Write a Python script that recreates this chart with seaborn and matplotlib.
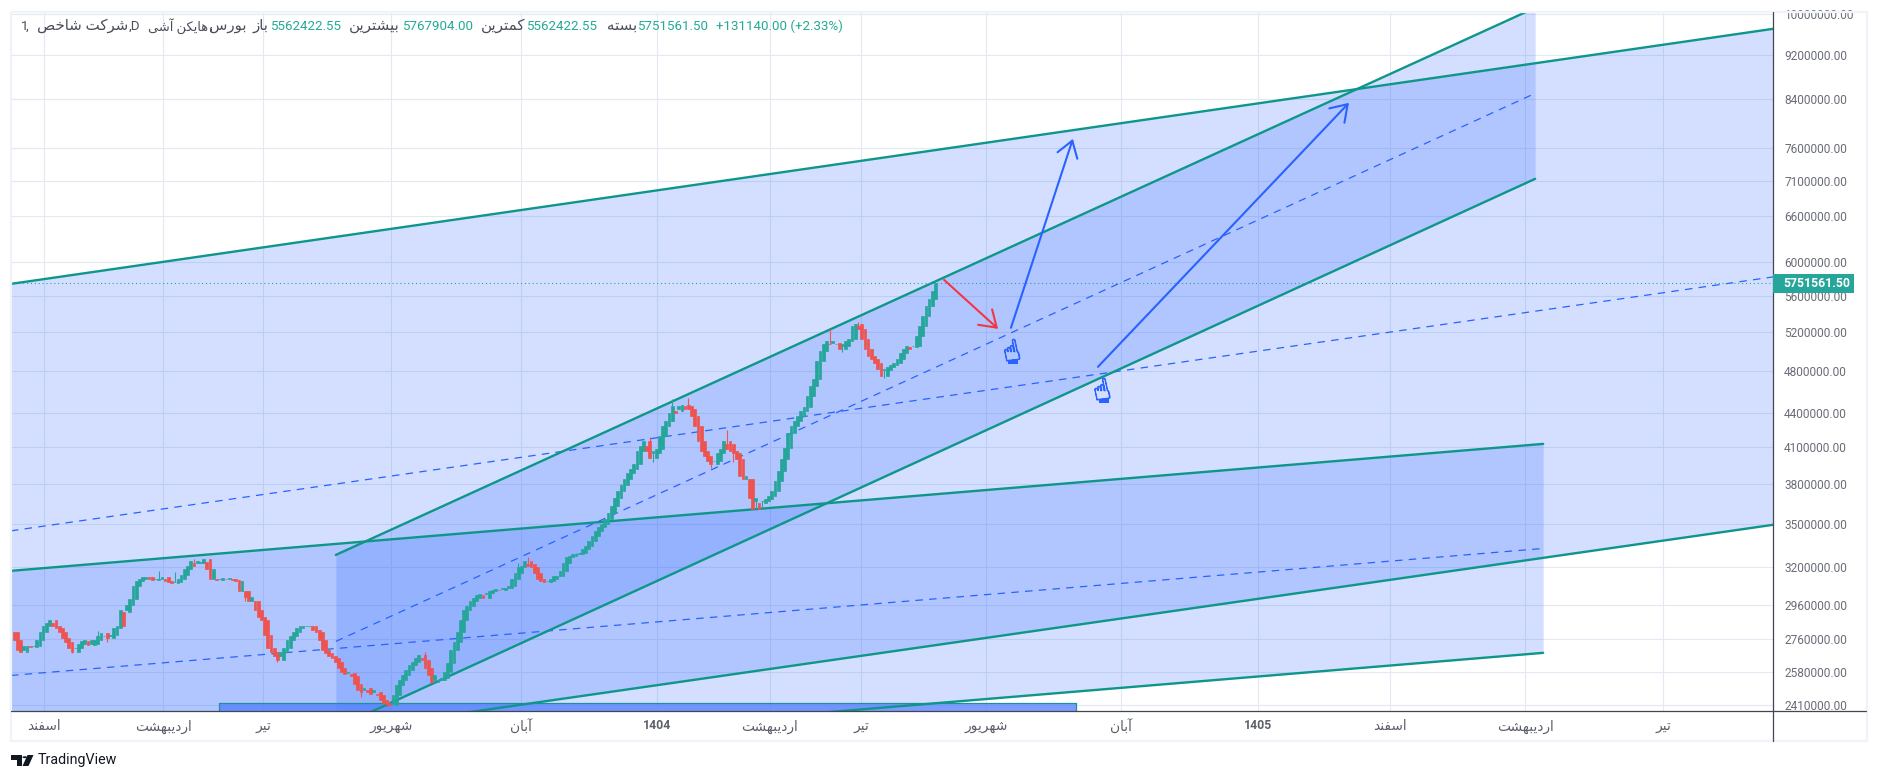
import unicodedata
import numpy as np
import matplotlib
matplotlib.use("Agg")
import matplotlib.pyplot as plt
import matplotlib.patheffects as pe
from matplotlib.lines import Line2D
from matplotlib.patches import Rectangle, Circle, Polygon
from matplotlib.ticker import NullLocator, NullFormatter
import seaborn as sns

# candle closes in thousands, first value is only the start level
prices = [2798,
    2753, 2697, 2686, 2719, 2719, 2714, 2719, 2753, 2798, 2833, 2856, 2868,
    2833, 2822, 2798, 2764, 2742, 2708, 2686, 2708, 2731, 2747, 2753, 2725, 2731, 2753, 2775,
    2793, 2775, 2764, 2781, 2822, 2833, 2928, 2916, 2958, 3000, 3082, 3113,
    3126, 3139, 3139, 3126, 3120, 3126, 3126, 3139, 3113, 3107, 3101, 3107,
    3126, 3152, 3191, 3211, 3244, 3231, 3231, 3237, 3258, 3191, 3126, 3126, 3120,
    3126, 3133, 3126, 3126, 3120, 3113, 3050, 3050, 3013, 2988, 2988, 2928, 2886, 2868,
    2781, 2708, 2686, 2664, 2642, 2686, 2708, 2753, 2775, 2798, 2822, 2833, 2833,
    2833, 2833, 2810, 2798, 2753, 2697, 2680, 2664, 2653, 2631,
    2599, 2578, 2567, 2573, 2557, 2516, 2485, 2475, 2495, 2485, 2465, 2475, 2460, 2435, 2420, 2415, 2410,
    2460, 2510, 2536, 2562, 2588, 2615, 2631, 2653, 2669, 2642, 2599, 2562, 2526,
    2536, 2536, 2547, 2578, 2625, 2697, 2742, 2798, 2868, 2928,
    2952, 2988, 3007, 3025, 3031, 3007, 3038, 3050, 3057, 3063, 3057, 3069, 3069, 3082,
    3126, 3165, 3204, 3211, 3244, 3224, 3204, 3165, 3126, 3113, 3107,
    3113, 3126, 3146, 3146, 3178, 3231, 3271, 3278, 3291, 3291, 3298, 3325, 3346,
    3380, 3415, 3451, 3479, 3501, 3537, 3580, 3633,
    3693, 3746, 3793, 3840, 3888, 3920, 3960, 4067, 4109, 4152, 4067, 4010,
    4051, 4084, 4195, 4282, 4326, 4398, 4462, 4416, 4434, 4471, 4462, 4434,
    4371, 4282, 4152, 4067, 4026, 3985, 3960, 3985, 4051, 4084, 4152,
    4126, 4067, 4051, 4001, 3864, 3840, 3840, 3693, 3610, 3670, 3655,
    3670, 3685, 3708, 3746, 3824, 3904, 4001, 4092, 4221,
    4282, 4326, 4371, 4416, 4453, 4555, 4649, 4717, 4895, 4997, 5070, 5101,
    5070, 5080, 5070, 5018, 5049, 5101, 5122, 5261, 5283,
    5229, 5122, 5018, 4946, 4915, 4875, 4815, 4746,
    4805, 4835, 4855, 4875, 4915, 4976, 5018, 5049, 5039,
    5049, 5154, 5261, 5371, 5482, 5562, 5654, 5751.5615]

# visible wicks, bar number and price in thousands
high_bars = [27, 46, 51, 57, 129, 158, 161, 176, 190, 199, 206, 211, 223, 255, 264, 288]
high_vals = [2804, 3178, 3172, 3258, 2686, 3231, 3271, 3298, 3800, 4182, 4525, 4535, 4247, 5229, 5305, 5767.904]
low_bars = [19, 30, 73, 83, 109, 117, 200, 218, 225, 232, 234, 259, 272]
low_vals = [2680, 2742, 2988, 2631, 2450, 2400, 3977, 3928, 3977, 3600, 3627, 4990, 4727]

# channels: bar numbers and upper / middle / lower price at both ends, in thousands
wide_bars = [0, 548.9]
wide_upper = [5739, 9707]
wide_mid = [3450, 5822]
wide_lower = [2073, 3493]

flat_bars = [0, 477.3]
flat_upper = [3177, 4127]
flat_mid = [2561, 3327]
flat_lower = [2065, 2683]

steep_bars = [101.2, 474.8]
steep_upper = [3283, 10137]
steep_mid = [2747, 8499]
steep_lower = [2298, 7126]

# arrows as (bar, price) start and end
red_arrow = [(290.7, 5786), (307.5, 5231)]
blue_arrows = [[(311.5, 5242), (330.8, 7738)], [(338.6, 4837), (416.8, 8334)]]
hand_bars = [311.8, 339.9]
hand_vals = [4978, 4594]
zone_bars = [64.8, 331.8]
zone_vals = [2300, 2420]

last_price = 5751561.50
y_ticks = [2410000, 2580000, 2760000, 2960000, 3200000, 3500000, 3800000, 4100000, 4400000,
           4800000, 5200000, 5600000, 6000000, 6600000, 7100000, 7600000, 8400000, 9200000, 10000000]
x_ticks = [10.3, 47.4, 78.5, 118.4, 158.9, 201.2, 236.4, 264.8, 303.7, 345.8, 388.5, 429.6, 471.7, 514.6]
x_labels = ["اسفند", "اردیبهشت", "تیر", "شهریور", "آبان", "1404", "اردیبهشت", "تیر", "شهریور", "آبان", "1405",
            "اسفند", "اردیبهشت", "تیر"]

TEAL = "#0e9688"
BLUE = "#2962ff"
UP = "#26a69a"
DOWN = "#ef5350"
W, H = 1878, 781


# matplotlib does not join arabic letters, so pick the presentation forms and flip the string
forms = {}
for cp in list(range(0xFB50, 0xFE00)) + list(range(0xFE70, 0xFEFF)):
    parts = unicodedata.decomposition(chr(cp)).split()
    if len(parts) == 2 and parts[0] in ("<isolated>", "<final>", "<initial>", "<medial>"):
        forms.setdefault(chr(int(parts[1], 16)), {}).setdefault(parts[0].strip("<>"), chr(cp))


def fa(text):
    if not any(c in forms for c in text):
        return text
    out = []
    for i, c in enumerate(text):
        if c not in forms:
            out.append(c)
            continue
        prev = text[i - 1] if i > 0 else " "
        nxt = text[i + 1] if i < len(text) - 1 else " "
        join_prev = "initial" in forms.get(prev, {}) and "final" in forms[c]
        join_next = "initial" in forms[c] and "final" in forms.get(nxt, {})
        if join_prev and join_next:
            key = "medial"
        elif join_prev:
            key = "final"
        elif join_next:
            key = "initial"
        else:
            key = "isolated"
        out.append(forms[c].get(key, c))
    return "".join(out[::-1])


def fx(x):
    return x / W


def fy(y):
    return 1 - y / H


def fig_rect(fig, x0, y0, x1, y1, **kw):
    fig.add_artist(Rectangle((fx(x0), fy(y1)), (x1 - x0) / W, (y1 - y0) / H, transform=fig.transFigure, **kw))


def channel(ax, bars, upper, mid, lower):
    ax.fill_between(bars, lower, upper, color=BLUE, alpha=0.2, linewidth=0, zorder=1)
    sns.lineplot(x=bars, y=upper, ax=ax, color=TEAL, lw=1.7, errorbar=None, zorder=4)
    sns.lineplot(x=bars, y=lower, ax=ax, color=TEAL, lw=1.7, errorbar=None, zorder=4)
    sns.lineplot(x=bars, y=mid, ax=ax, color=BLUE, lw=0.9, linestyle=(0, (6, 5)), errorbar=None, zorder=4)


def main():
    sns.set_theme(style="white")
    plt.rcParams["font.family"] = ["Roboto", "DejaVu Sans"]

    fig = plt.figure(figsize=(W / 100, H / 100), dpi=100, facecolor="white")
    ax = fig.add_axes([fx(11), fy(711), 1762 / W, 699 / H])
    ax.set_yscale("log")

    p = np.array(prices, dtype=float) * 1000
    k = 1000

    channel(ax, wide_bars, np.array(wide_upper) * k, np.array(wide_mid) * k, np.array(wide_lower) * k)
    channel(ax, flat_bars, np.array(flat_upper) * k, np.array(flat_mid) * k, np.array(flat_lower) * k)
    channel(ax, steep_bars, np.array(steep_upper) * k, np.array(steep_mid) * k, np.array(steep_lower) * k)

    # zone at the bottom
    ax.fill_between(zone_bars, zone_vals[0] * k, zone_vals[1] * k, facecolor="#4f7dff", alpha=0.75,
                    edgecolor="none", zorder=2)
    sns.lineplot(x=zone_bars, y=[zone_vals[1] * k] * 2, ax=ax, color="#1f8f9f", lw=0.9, errorbar=None, zorder=3)
    ax.vlines(zone_bars[0], zone_vals[0] * k, zone_vals[1] * k, color="#1f8f9f", lw=0.9, zorder=3)
    ax.vlines(zone_bars[1], zone_vals[0] * k, zone_vals[1] * k, color="#1f8f9f", lw=0.9, zorder=3)

    # heikin ashi bodies are taller than one step, open them two closes back
    bars = np.arange(1, len(p))
    opens = np.concatenate(([p[0]], p[:-2]))
    colors = [UP if b >= a else DOWN for a, b in zip(p[:-1], p[1:])]
    ax.bar(bars, p[1:] - opens, bottom=opens, width=0.85, color=colors, edgecolor=colors, linewidth=0.5, zorder=5)
    ax.vlines(high_bars, p[high_bars], np.array(high_vals) * k,
              colors=[colors[b - 1] for b in high_bars], lw=0.8, zorder=5)
    ax.vlines(low_bars, p[low_bars], np.array(low_vals) * k,
              colors=[colors[b - 1] for b in low_bars], lw=0.8, zorder=5)

    ax.axhline(last_price, color=UP, lw=0.8, linestyle=(0, (1, 2.5)), zorder=4)

    # arrows and hands
    ax.annotate("", xy=(red_arrow[1][0], red_arrow[1][1] * k), xytext=(red_arrow[0][0], red_arrow[0][1] * k),
                arrowprops=dict(arrowstyle="->,head_length=0.75,head_width=0.5", color="#f23645", lw=1.5,
                                shrinkA=0, shrinkB=0, mutation_scale=15), zorder=6)
    for a, b in blue_arrows:
        ax.annotate("", xy=(b[0], b[1] * k), xytext=(a[0], a[1] * k),
                    arrowprops=dict(arrowstyle="->,head_length=0.75,head_width=0.5", color=BLUE, lw=1.5,
                                    shrinkA=0, shrinkB=0, mutation_scale=15), zorder=6)
    for x, y in zip(hand_bars, hand_vals):
        ax.text(x, y * k, "\u261d", family="DejaVu Sans", fontsize=21, color=BLUE, ha="center", va="center",
                rotation=12, zorder=6, path_effects=[pe.withStroke(linewidth=0.7, foreground=BLUE)])
    fig_rect(fig, 1008, 360, 1018, 363.5, facecolor=BLUE, edgecolor="none", zorder=3)
    fig_rect(fig, 1099, 399, 1109, 402.5, facecolor=BLUE, edgecolor="none", zorder=3)

    # axes
    ax.set_xlim(0, 548.9)
    ax.set_ylim(2380000, 10050000)
    ax.set_yticks(y_ticks)
    ax.set_yticklabels([f"{v:.2f}" for v in y_ticks])
    ax.yaxis.set_minor_locator(NullLocator())
    ax.yaxis.set_minor_formatter(NullFormatter())
    ax.yaxis.tick_right()
    ax.set_xticks(x_ticks)
    ax.set_xticklabels([fa(t) for t in x_labels])
    ax.tick_params(axis="y", length=0, pad=8, labelsize=8.6, labelcolor="#6a6d78")
    ax.tick_params(axis="x", length=0, pad=6, labelsize=9.9, labelcolor="#5d606b")
    for t in ax.get_xticklabels():
        if t.get_text() in ("1404", "1405"):
            t.set_fontweight("bold")
            t.set_fontsize(8.8)
    ax.grid(True, color="#e3e9f2", lw=0.8)
    ax.set_axisbelow(True)
    for s in ax.spines.values():
        s.set_visible(False)

    # outer frame and price scale lines
    fig_rect(fig, 11, 12, 1867, 741, facecolor="none", edgecolor="#f0f3fa", lw=1.6, zorder=1)
    fig.add_artist(Line2D([fx(1773), fx(1773)], [fy(12), fy(741)], color="#434651", lw=0.9, zorder=3))
    fig.add_artist(Line2D([fx(11), fx(1866)], [fy(711), fy(711)], color="#434651", lw=0.9, zorder=3))

    # last price tag
    fig_rect(fig, 1773, 274, 1854, 293, facecolor=UP, edgecolor="none", zorder=3)
    fig.text(fx(1817), fy(283.5), f"{last_price:.2f}", color="white", fontsize=8.8, fontweight="bold",
             ha="center", va="center", zorder=4)

    # legend line on top
    dark = "#4a4e5a"
    green = "#22ab94"
    num_size = 9.6
    fa_size = 10.8
    head = [
        (21, "left", "1", dark, num_size), (26, "left", ",", dark, num_size),
        (128, "right", fa("شرکت شاخص"), dark, fa_size),
        (129, "left", ",D", dark, num_size), (208, "right", fa("هایکن آشی"), dark, 9.4),
        (210, "left", ",", dark, num_size),
        (246, "right", fa("بورس"), dark, fa_size), (268, "right", fa("باز"), dark, fa_size),
        (270, "left", "5562422.55", green, num_size),
        (400, "right", fa("بیشترین"), dark, fa_size), (402, "left", "5767904.00", green, num_size),
        (525, "right", fa("کمترین"), dark, fa_size), (526, "left", "5562422.55", green, num_size),
        (637, "right", fa("بسته"), dark, fa_size), (637, "left", "5751561.50", green, num_size),
        (716, "left", "+131140.00 (+2.33%)", green, num_size),
    ]
    for x, ha, s, c, size in head:
        fig.text(fx(x), fy(26), s, color=c, fontsize=size, ha=ha, va="center", zorder=4)

    # tradingview logo
    ink = "#131722"
    fig_rect(fig, 11, 755, 22, 759.5, facecolor=ink, edgecolor="none", zorder=3)
    fig_rect(fig, 16.5, 755, 22, 766, facecolor=ink, edgecolor="none", zorder=3)
    fig.add_artist(Circle((fx(24.7), fy(757.2)), 2.3 / W, transform=fig.transFigure, facecolor=ink,
                          edgecolor="none", zorder=3))
    fig.add_artist(Polygon([(fx(27.5), fy(755)), (fx(33.5), fy(755)), (fx(28.5), fy(766)), (fx(22.5), fy(766))],
                           transform=fig.transFigure, facecolor=ink, edgecolor="none", zorder=3))
    fig.text(fx(38), fy(760), "TradingView", color=ink, fontsize=10.3, ha="left", va="center", zorder=4)

    fig.savefig("out.png", dpi=100)
    plt.close(fig)


if __name__ == "__main__":
    main()
